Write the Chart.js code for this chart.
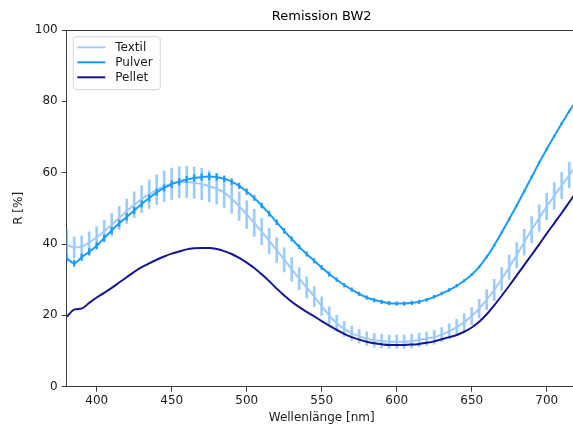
<!DOCTYPE html>
<html><head><meta charset="utf-8">
<script src="https://cdn.jsdelivr.net/npm/chart.js@4.4.1/dist/chart.umd.min.js"></script>
<style>
html,body{margin:0;padding:0;background:#fff;overflow:hidden;width:573px;height:430px}
#wrap{position:absolute;left:0;top:0;width:578px;height:430px}
canvas{display:block}
</style></head>
<body><div id="wrap"><canvas id="c" width="578" height="430"></canvas></div>
<script>
const wavelengths = [380,385,390,395,400,405,410,415,420,425,430,435,440,445,450,455,460,465,470,475,480,485,490,495,500,505,510,515,520,525,530,535,540,545,550,555,560,565,570,575,580,585,590,595,600,605,610,615,620,625,630,635,640,645,650,655,660,665,670,675,680,685,690,695,700,705,710,715,720];
const seriesNames = ['Textil','Pulver','Pellet'];
const textil = [39.9,39.0,39.3,40.4,41.9,43.6,45.4,47.3,49.2,51.0,52.6,54.0,55.2,56.2,56.9,57.3,57.4,57.2,56.8,56.2,55.5,54.4,52.7,50.6,48.3,45.9,43.5,40.9,38.3,35.6,32.9,30.3,27.8,25.3,22.6,20.0,17.8,16.2,15.0,14.1,13.5,13.0,12.8,12.6,12.6,12.6,12.8,13.1,13.5,13.9,14.6,15.5,16.7,18.1,19.8,21.9,24.4,27.1,30.2,33.5,36.9,40.5,44.0,47.3,50.5,53.5,56.4,59.3,62.2];
const textilErr = [4.2,3.0,3.0,3.0,3.0,3.1,3.2,3.3,3.4,3.6,3.8,4.0,4.2,4.3,4.4,4.4,4.4,4.4,4.4,4.3,4.3,4.2,4.1,4.0,3.9,3.8,3.7,3.6,3.5,3.4,3.3,3.1,3.0,2.8,2.6,2.4,2.2,2.1,2.0,1.9,1.9,1.9,1.9,1.9,1.9,1.9,1.9,1.9,1.9,2.0,2.0,2.1,2.2,2.3,2.4,2.6,2.8,3.0,3.2,3.4,3.5,3.6,3.7,3.7,3.7,3.7,3.7,3.6,3.6];
const pulver = [36.0,34.6,36.3,37.8,39.5,41.7,43.8,45.8,47.6,49.4,51.2,52.9,54.5,55.7,56.8,57.5,58.1,58.5,58.8,58.9,58.8,58.3,57.5,56.3,54.7,52.9,50.8,48.5,46.1,43.7,41.4,39.2,37.2,35.3,33.4,31.6,30.0,28.5,27.2,26.0,25.0,24.3,23.8,23.4,23.3,23.3,23.5,23.8,24.4,25.2,26.1,27.1,28.3,29.7,31.4,33.6,36.4,39.6,43.2,47.0,50.8,54.8,58.8,62.8,66.6,70.2,73.8,77.2,80.4];
const pulverErr = [0.9,0.9,0.9,0.9,0.9,0.9,0.9,0.9,0.9,0.9,0.9,0.9,0.9,0.9,0.9,0.9,0.9,0.9,0.9,0.9,0.9,0.8,0.8,0.8,0.8,0.7,0.7,0.7,0.7,0.7,0.6,0.6,0.6,0.6,0.6,0.6,0.5,0.5,0.5,0.5,0.5,0.5,0.5,0.5,0.5,0.5,0.5,0.5,0.4,0.4,0.4,0.4,0.4,0.3,0.3,0.3,0.3,0.3,0.3,0.3,0.3,0.3,0.3,0.3,0.3,0.3,0.3,0.3,0.3];
const pellet = [19.6,21.6,21.9,23.5,25.0,26.3,27.7,29.2,30.7,32.2,33.5,34.6,35.6,36.5,37.3,37.9,38.5,38.8,38.9,38.9,38.6,38.0,37.2,36.1,34.8,33.3,31.5,29.6,27.5,25.6,23.8,22.3,21.0,19.7,18.4,17.1,15.9,14.8,13.9,13.2,12.6,12.2,11.9,11.7,11.7,11.7,11.8,12.0,12.3,12.7,13.3,13.9,14.5,15.4,16.6,18.2,20.3,22.8,25.5,28.3,31.2,34.1,37.0,39.9,42.9,45.8,48.7,51.7,54.7];
const xTickValues = [400,450,500,550,600,650,700];
const yTickValues = [0,20,40,60,80,100];

const FONT = 'DejaVu Sans';
const TXT = '#1a1a1a';
const AXC = '#3a3a3a';
const colTextil = '#9dcbfa', colPulver = '#1a9bff', colPellet = '#15158e';

const pts = v => wavelengths.map((w,i)=>({x:w, y:v[i]}));
const errs = (v,e) => wavelengths.map((w,i)=>({x:w, y:[v[i]-e[i], v[i]+e[i]]}));
const lineDs = (label, v, col, order) => ({type:'line', label, data:pts(v), borderColor:col, backgroundColor:col, borderWidth:2, pointRadius:0, fill:false, cubicInterpolationMode:'monotone', order});
const errDs = (v, e, col, order, th) => ({type:'bar', label:'_err', data:errs(v,e), backgroundColor:col, borderWidth:0, barThickness:th, grouped:false, order});

const decoPlugin = {
  id:'deco',
  afterDatasetsDraw(chart){
    const {ctx, chartArea:a} = chart;
    ctx.save();
    ctx.strokeStyle = AXC; ctx.lineWidth = 1;
    ctx.beginPath(); ctx.moveTo(a.left, a.top+0.5); ctx.lineTo(a.right, a.top+0.5); ctx.stroke();
    // legend
    const x0 = a.left+6.6, y0 = a.top+6.7, w = 87, h = 53, r = 3;
    ctx.beginPath();
    ctx.moveTo(x0+r,y0); ctx.lineTo(x0+w-r,y0); ctx.quadraticCurveTo(x0+w,y0,x0+w,y0+r);
    ctx.lineTo(x0+w,y0+h-r); ctx.quadraticCurveTo(x0+w,y0+h,x0+w-r,y0+h);
    ctx.lineTo(x0+r,y0+h); ctx.quadraticCurveTo(x0,y0+h,x0,y0+h-r);
    ctx.lineTo(x0,y0+r); ctx.quadraticCurveTo(x0,y0,x0+r,y0); ctx.closePath();
    ctx.fillStyle = 'rgba(255,255,255,0.85)'; ctx.fill();
    ctx.strokeStyle = '#d6d6d6'; ctx.lineWidth = 1; ctx.stroke();
    const lines = chart.data.datasets.filter(d => d.type === 'line');
    ctx.font = '12px "' + FONT + '"';
    ctx.textBaseline = 'middle'; ctx.textAlign = 'left';
    lines.forEach((d,i) => {
      const yy = y0 + 10.6 + i*15;
      ctx.strokeStyle = d.borderColor; ctx.lineWidth = 2;
      ctx.beginPath(); ctx.moveTo(x0+4, yy); ctx.lineTo(x0+32, yy); ctx.stroke();
      ctx.fillStyle = TXT;
      ctx.fillText(d.label, x0+42, yy+0.5);
    });
    ctx.restore();
  }
};

new Chart(document.getElementById('c'), {
  type:'line',
  data:{ datasets:[
    lineDs(seriesNames[0], textil, colTextil, 5),
    errDs(textil, textilErr, colTextil, 6, 2),
    lineDs(seriesNames[1], pulver, colPulver, 3),
    errDs(pulver, pulverErr, colPulver, 4, 1.5),
    lineDs(seriesNames[2], pellet, colPellet, 1)
  ]},
  options:{
    responsive:false, animation:false, devicePixelRatio:1,
    layout:{padding:{left:0, right:1.3, top:0, bottom:0}},
    plugins:{
      legend:{display:false}, tooltip:{enabled:false},
      title:{display:true, text:'Remission BW2', fullSize:false, color:'#000', font:{family:FONT, size:13, weight:'normal'}, padding:{top:9.2, bottom:5.2}}
    },
    scales:{
      x:{ type:'linear', min:380, max:720, offset:false,
        afterBuildTicks: s => { s.ticks = xTickValues.map(v=>({value:v})); },
        afterFit: s => { s.height = 43.3; },
        grid:{display:true, offset:false, drawOnChartArea:false, drawTicks:true, tickLength:5, color:AXC, tickWidth:1},
        border:{display:true, color:AXC, width:1},
        ticks:{color:TXT, font:{family:FONT, size:12}, padding:2, maxRotation:0, autoSkip:false},
        title:{display:true, text:'Wellenlänge [nm]', color:TXT, font:{family:FONT, size:12}, padding:{top:0, bottom:5}}
      },
      y:{ type:'linear', min:0, max:100,
        afterBuildTicks: s => { s.ticks = yTickValues.map(v=>({value:v})); },
        afterFit: s => { s.width = 66.7; },
        grid:{display:true, offset:false, drawOnChartArea:false, drawTicks:true, tickLength:5, color:AXC, tickWidth:1},
        border:{display:true, color:AXC, width:1},
        ticks:{color:TXT, font:{family:FONT, size:12}, padding:4, autoSkip:false},
        title:{display:true, text:'R [%]', color:TXT, font:{family:FONT, size:12}, padding:{top:12, bottom:0}}
      }
    }
  },
  plugins:[decoPlugin]
});
</script>
</body></html>
